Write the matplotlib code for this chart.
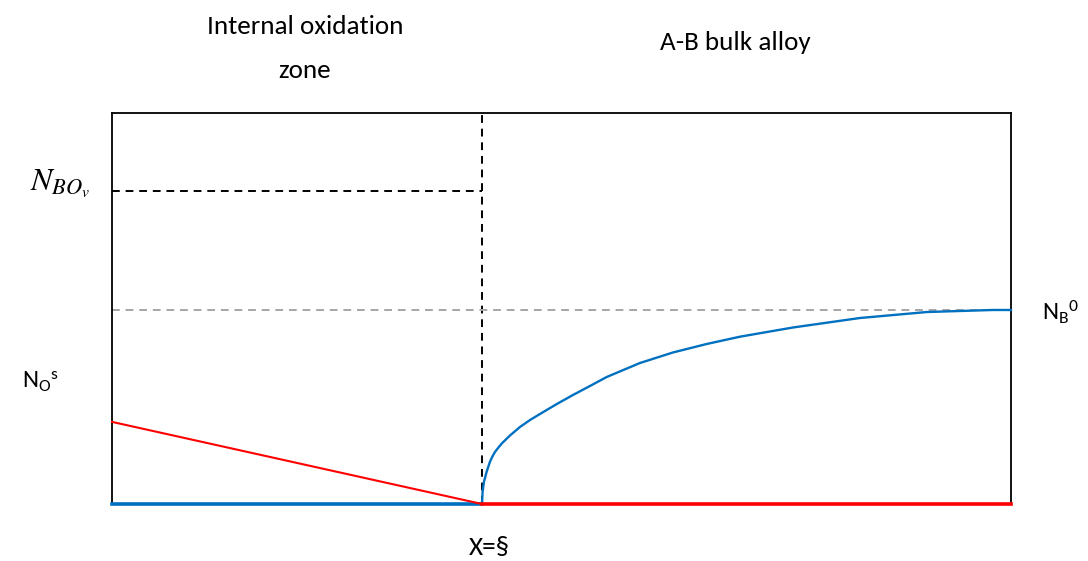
import numpy as np
import matplotlib
matplotlib.use("Agg")
import matplotlib.pyplot as plt

plt.rcParams['font.family'] = ['Carlito', 'Lato', 'DejaVu Sans']

# positions in fractions of the box
x_front = 0.4116
n_bov = 0.80
n_b0 = 0.496
n_os = 0.21

# oxygen profile (red)
ox_x = [0.0, x_front, 1.0]
ox_y = [n_os, 0.0, 0.0]

# solute B profile (blue)
b_x = [0.4116, 0.4123, 0.4138, 0.4168, 0.4205, 0.4232, 0.4260, 0.4299, 0.4335,
       0.4427, 0.4538, 0.4650, 0.4761, 0.4939, 0.5128, 0.5317, 0.5503, 0.5873,
       0.6240, 0.6615, 0.6986, 0.7575, 0.8320, 0.9066, 0.9800, 1.0]
b_y = [0.0, 0.0315, 0.0570, 0.0826, 0.1082, 0.1215, 0.1330, 0.1445, 0.1545,
       0.1752, 0.1969, 0.2148, 0.2302, 0.2545, 0.2788, 0.3018, 0.3248, 0.3606,
       0.3875, 0.4092, 0.4279, 0.4514, 0.4757, 0.4910, 0.4962, 0.4962]

fig = plt.figure(figsize=(10.88, 5.61), dpi=100)
ax = fig.add_axes([0.1029, 0.1016, 0.8263, 0.697])
ax.set_xlim(0, 1)
ax.set_ylim(0, 1)
ax.set_xticks([])
ax.set_yticks([])
for s in ax.spines.values():
    s.set_linewidth(1.3)

ax.axvline(x_front, color='black', ls=(0, (4, 3)), lw=1.4)
ax.plot([0, x_front], [n_bov, n_bov], color='black', ls=(0, (4, 3)), lw=1.4)
ax.axhline(n_b0, color='#A6A6A6', ls=(0, (4, 3)), lw=1.4)

# blue: flat part in the oxidation zone, then the rising profile
ax.plot([0, x_front], [0, 0], color='#0070C0', lw=2.6, clip_on=False, zorder=3)
ax.plot(b_x, b_y, color='#0070C0', lw=1.7, clip_on=False, zorder=3,
        solid_joinstyle='round')
ax.plot(ox_x[:2], ox_y[:2], color='#FF0000', lw=1.5, clip_on=False, zorder=3)
ax.plot(ox_x[1:], ox_y[1:], color='#FF0000', lw=2.6, clip_on=False, zorder=4)

fs = 19.5
fig.text(305 / 1088, 1 - 26 / 561, 'Internal oxidation', ha='center', va='center', fontsize=fs)
fig.text(305 / 1088, 1 - 71 / 561, 'zone', ha='center', va='center', fontsize=fs)
fig.text(735 / 1088, 1 - 42 / 561, 'A-B bulk alloy', ha='center', va='center', fontsize=fs)
fig.text(489 / 1088, 1 - 548 / 561, 'X=§', ha='center', va='center', fontsize=fs)
fig.text(30 / 1088, 1 - 183 / 561, r'$N_{BO_v}$', ha='left', va='center', fontsize=23,
         math_fontfamily='stix')
fig.text(22 / 1088, 1 - 382 / 561, r'$\mathregular{N_O{}^{s}}$', ha='left', va='center', fontsize=18)
fig.text(1042 / 1088, 1 - 312 / 561, r'$\mathregular{N_B{}^{0}}$', ha='left', va='center', fontsize=18)

fig.savefig('out.png', dpi=100)
